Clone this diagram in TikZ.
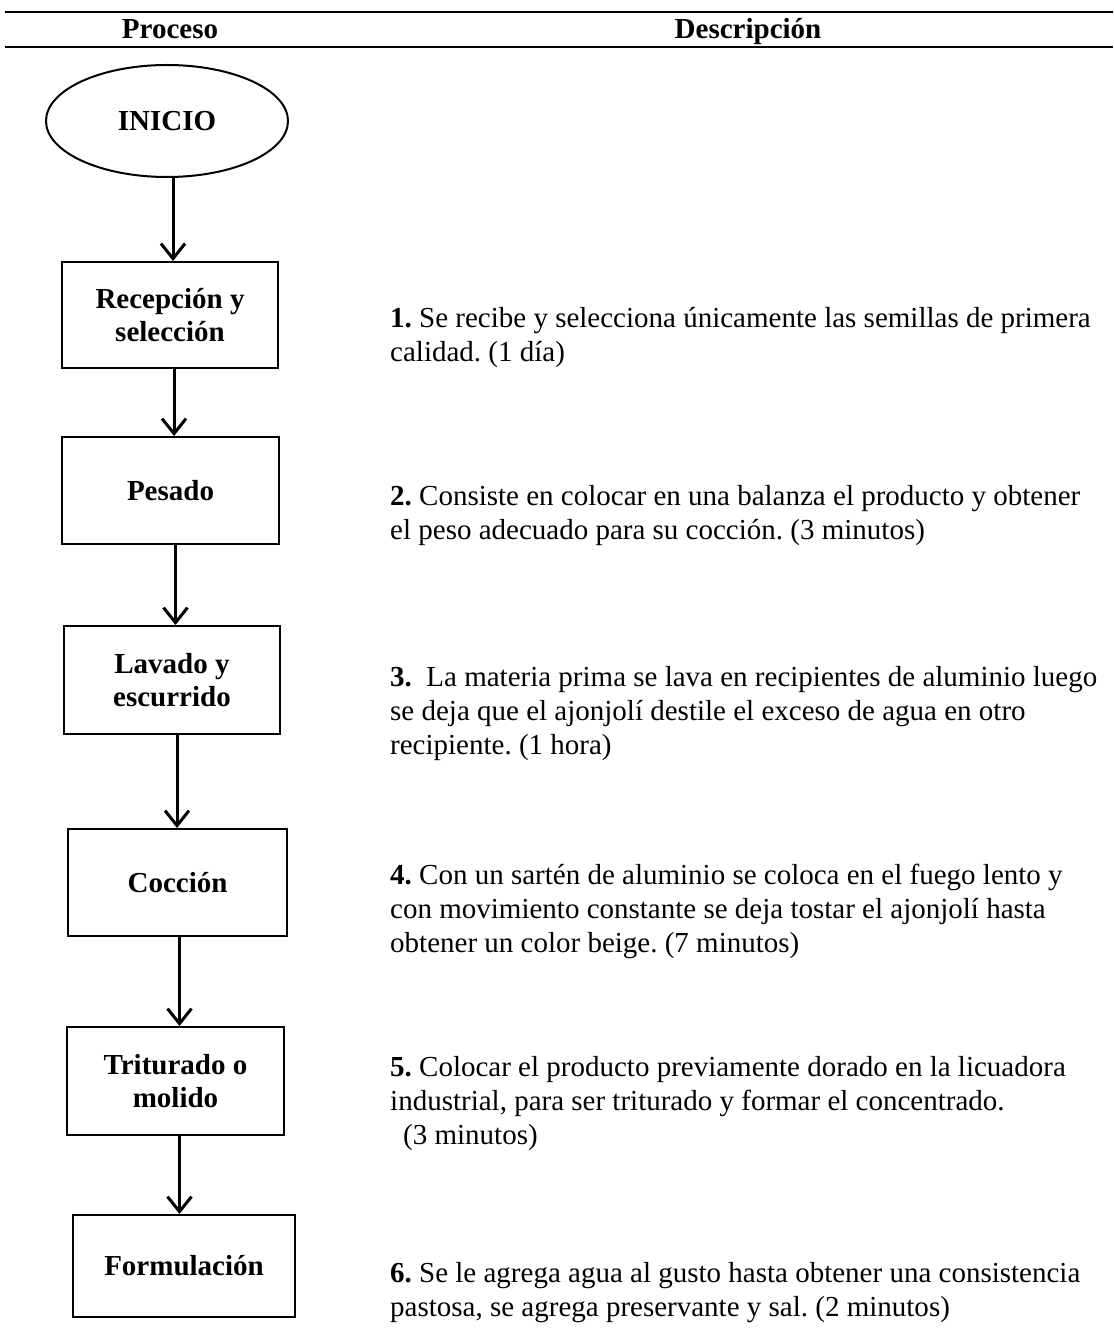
\documentclass[tikz,border=0pt]{standalone}
\usepackage{fontspec}
\setmainfont{Liberation Serif}
\frenchspacing
\usetikzlibrary{shapes.geometric,arrows.meta}
\tikzset{
  rule/.style={line width=2pt},
  procbox/.style={draw, line width=2pt, inner sep=0pt, align=center,
    font=\fontsize{29}{33}\selectfont\bfseries},
  startnode/.style={draw, ellipse, line width=2pt, inner sep=0pt,
    font=\fontsize{29}{33}\selectfont\bfseries},
  flow/.style={line width=3pt, -{Straight Barb[length=15pt,width=24pt,line width=3pt]}},
  headtxt/.style={anchor=base, font=\fontsize{29}{33}\selectfont\bfseries},
  desc/.style={anchor=base west, inner sep=0pt}
}
\newcommand{\desctext}[1]{\parbox[t]{720pt}{\fontsize{29}{34}\selectfont\frenchspacing\raggedright #1}}
\begin{document}
\begin{tikzpicture}[x=1pt,y=-1pt]
\fill[white] (0,0) rectangle (1113,1329);
\useasboundingbox (0,0) rectangle (1113,1329);
% header
\coordinate (hl1a) at (5,12); \coordinate (hl1b) at (1113,12);
\coordinate (hl2a) at (5,47); \coordinate (hl2b) at (1113,47);
\draw[rule] (hl1a) -- (hl1b);
\draw[rule] (hl2a) -- (hl2b);
\node[headtxt] (hproc) at (170,39) {Proceso};
\node[headtxt] (hdesc) at (748,39) {Descripción};
% flow
\node[startnode, minimum width=242pt, minimum height=112pt] (inicio) at (167,121) {INICIO};
\node[procbox, minimum width=216pt, minimum height=106pt] (b1) at (170,315) {Recepción y\\selección};
\node[procbox, minimum width=217pt, minimum height=107pt] (b2) at (170.5,490.5) {Pesado};
\node[procbox, minimum width=216pt, minimum height=108pt] (b3) at (172,680) {Lavado y\\escurrido};
\node[procbox, minimum width=219pt, minimum height=107pt] (b4) at (177.5,882.5) {Cocción};
\node[procbox, minimum width=217pt, minimum height=108pt] (b5) at (175.5,1081) {Triturado o\\molido};
\node[procbox, minimum width=222pt, minimum height=102pt] (b6) at (184,1266) {Formulación};
\draw[flow] ([xshift=6pt]inicio.south) -- ([xshift=6pt]inicio.south |- b1.north);
\draw[flow] ([xshift=4pt]b1.south) -- ([xshift=4pt]b1.south |- b2.north);
\draw[flow] ([xshift=5pt]b2.south) -- ([xshift=5pt]b2.south |- b3.north);
\draw[flow] ([xshift=5pt]b3.south) -- ([xshift=5pt]b3.south |- b4.north);
\draw[flow] ([xshift=2pt]b4.south) -- ([xshift=2pt]b4.south |- b5.north);
\draw[flow] ([xshift=4pt]b5.south) -- ([xshift=4pt]b5.south |- b6.north);
% descriptions
\node[desc] (d1) at (390,327) {\desctext{\textbf{1.} Se recibe y selecciona únicamente las semillas de primera\\calidad. (1 día)}};
\node[desc] (d2) at (390,505) {\desctext{\textbf{2.} Consiste en colocar en una balanza el producto y obtener\\el peso adecuado para su cocción. (3 minutos)}};
\node[desc] (d3) at (390,686) {\desctext{\textbf{3.}\ \ La materia prima se lava en recipientes de aluminio luego\\se deja que el ajonjolí destile el exceso de agua en otro\\recipiente. (1 hora)}};
\node[desc] (d4) at (390,884) {\desctext{\textbf{4.} Con un sartén de aluminio se coloca en el fuego lento y\\con movimiento constante se deja tostar el ajonjolí hasta\\obtener un color beige. (7 minutos)}};
\node[desc] (d5) at (390,1076) {\desctext{\textbf{5.} Colocar el producto previamente dorado en la licuadora\\industrial, para ser triturado y formar el concentrado.\\\hspace*{13pt}(3 minutos)}};
\node[desc] (d6) at (390,1282) {\desctext{\textbf{6.} Se le agrega agua al gusto hasta obtener una consistencia\\pastosa, se agrega preservante y sal. (2 minutos)}};
\end{tikzpicture}
\end{document}
